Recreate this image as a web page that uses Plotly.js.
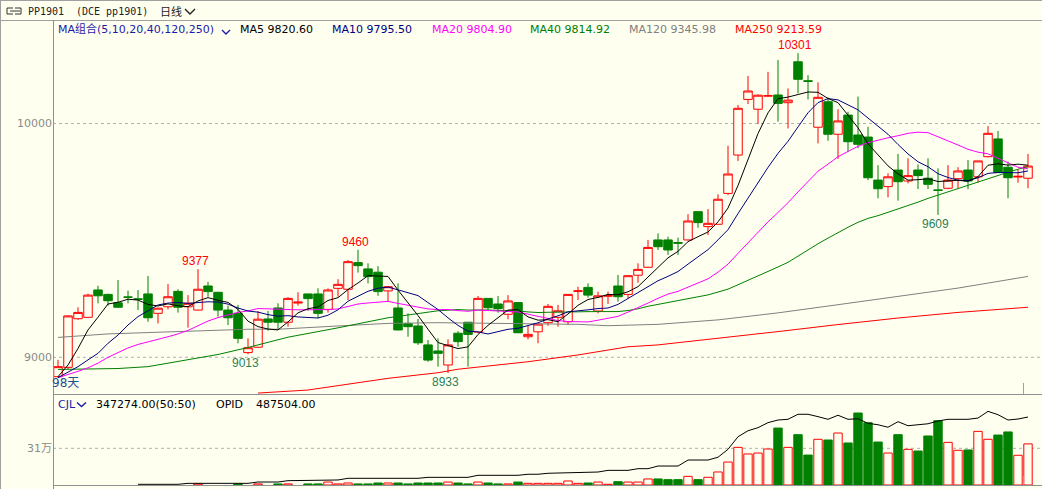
<!DOCTYPE html>
<html><head><meta charset="utf-8">
<script src="https://cdn.plot.ly/plotly-3.0.1.min.js"></script>
<style>html,body{margin:0;padding:0;background:#fffff0;overflow:hidden}</style>
</head><body><div id="chart" style="width:1042px;height:489px"></div>
<script>
// ---- data ----
const openP = [8917,8957,9165,9171,9288,9269,9233,9258,9250,9271,9188,9216,9282,9216,9202,9305,9278,9202,9188,9020,
  9043,9164,9211,9150,9232,9271,9271,9205,9295,9291,9405,9378,9364,9284,9211,9144,9134,9053,9027,8967,
  9103,9150,9108,9252,9228,9184,9234,9088,9109,9148,9171,9152,9282,9299,9198,9261,9305,9269,9351,9385,
  9502,9502,9491,9502,9623,9559,9569,9701,9865,10103,10061,10117,10122,10089,10264,10183,9984,10093,9954,10036,
  9951,9942,9758,9730,9801,9754,9801,9766,9716,9723,9764,9801,9772,9858,9934,9813,9771,9766];
const highP = [8989,9180,9214,9272,9306,9272,9331,9285,9288,9348,9212,9313,9291,9266,9377,9323,9280,9221,9224,9081,
  9198,9198,9231,9257,9278,9272,9295,9295,9334,9416,9460,9402,9390,9303,9316,9188,9164,9074,9081,9077,
  9112,9150,9262,9252,9262,9266,9236,9138,9145,9228,9224,9270,9302,9316,9281,9281,9352,9350,9402,9502,
  9530,9516,9512,9612,9623,9634,9697,9905,10079,10203,10125,10221,10272,10150,10301,10207,10176,10112,10061,10050,
  10115,9986,9822,9787,9870,9851,9825,9851,9808,9822,9813,9844,9840,9989,9968,9837,9804,9870];
const lowP = [8912,8950,9160,9170,9231,9221,9212,9231,9202,9152,9145,9205,9191,9127,9200,9259,9174,9138,9060,9013,
  9040,9114,9117,9131,9221,9199,9167,9191,9259,9245,9362,9316,9263,9238,9115,9088,9053,8981,8960,8933,
  9045,8960,9103,9202,9191,9163,9103,9077,9060,9135,9131,9138,9245,9255,9188,9228,9238,9252,9319,9383,
  9459,9438,9438,9500,9554,9523,9568,9694,9840,10083,9998,10115,10008,9979,10129,10103,9915,9926,9848,9879,
  9894,9758,9680,9684,9670,9744,9720,9720,9609,9719,9723,9719,9747,9855,9789,9680,9747,9723];
const closeP = [8960,9177,9192,9266,9263,9242,9214,9257,9248,9169,9210,9259,9214,9231,9291,9281,9202,9169,9081,9041,
  9163,9150,9150,9252,9236,9251,9188,9288,9312,9409,9392,9345,9281,9302,9117,9131,9062,8988,9017,9053,
  9067,9098,9252,9212,9208,9241,9105,9098,9142,9218,9199,9269,9284,9266,9263,9264,9259,9349,9376,9470,
  9473,9459,9488,9583,9576,9573,9676,9784,10065,10139,10121,10119,10086,10100,10189,10180,10112,9954,10011,9922,
  9911,9768,9721,9772,9751,9777,9777,9740,9714,9758,9797,9754,9840,9958,9790,9768,9774,9818];
// volumes too small to show in the picture are given as 0
const volume = [0,0,0,0,0,0,0,0,0,0,0,0,0,0,
  9000,0,0,0,9000,0,9000,0,9000,9000,0,9000,9000,25000,9000,17000,9000,9000,17000,17000,17000,9000,17000,17000,17000,25000,17000,9000,25000,17000,9000,9000,25000,
  14000,14000,14000,14000,34000,14000,17000,25000,6000,28000,25000,25000,51000,51000,45000,45000,73000,45000,65000,110000,194000,318000,262000,270000,
  304000,481000,318000,425000,253000,386000,380000,439000,355000,608000,526000,363000,270000,425000,301000,287000,414000,543000,360000,293000,
  296000,453000,386000,422000,448000,251000,347274];
const opidStart = 8;
const opid = [5000,5000,5000,5000,5000,12000,12000,12000,12000,12000,12000,12000,21500,21500,21500,31000,31000,31000,31000,36000,36000,
  48000,48000,48000,48000,48000,48000,48000,48000,55000,55000,55000,55000,55000,69500,69500,69500,69500,69500,77000,77000,84000,86000,86000,
  93000,93000,93000,105000,105000,105000,117000,117000,136000,136000,136000,179000,179000,179000,199000,256000,346000,389000,411000,447000,
  466000,471000,507000,507000,490000,471000,500000,471000,475000,442000,432000,414000,454000,425000,432000,439000,459000,471000,471000,471000,
  480000,528000,504000,466000,473000,487504];
// moving-average values before the full window
const ma5Head = [8917,8967,9038,9117];
const ma10Head = [8913,8938,8960,8989,9017,9060,9095,9138,9174];
const ma20Head = [8913,8925,8940,8955,8975,9000,9020,9040,9055,9065,9075,9088,9100,9115,9135,9155,9170,9182,9192];
const ma40HeadX = [0,6,9,13,16,19,23,28,33,38];
const ma40HeadY = [8948,8952,8960,8988,9012,9042,9086,9126,9169,9199];
const ma120X = [0,5,19,22,28,33,38,45,52,55,60,66,72,78,84,90,97];
const ma120Y = [9085,9100,9120,9120,9134,9145,9148,9145,9141,9135,9141,9160,9190,9225,9262,9296,9346];
const ma250X = [20,25,33,38,40,47,52,57,60,66,72,78,84,90,97];
const ma250Y = [8847,8860,8910,8934,8949,8981,9010,9045,9053,9080,9110,9140,9168,9192,9214];
const highLabels = [14,30,74];
const lowLabels = [19,39,88];
const maNames = ['MA5','MA10','MA20','MA40','MA120','MA250'];
const maValues = ['9820.60','9795.50','9804.90','9814.92','9345.98','9213.59'];

// ---- build ----
const BG = '#fffff0', RED = '#ff0000', GREEN = '#008000';
const idx = closeP.map((_, i) => i);
function sma(vals, n) {
  const xs = [], ys = [];
  for (let i = n - 1; i < vals.length; i++) {
    let s = 0; for (let k = i - n + 1; k <= i; k++) s += vals[k];
    xs.push(i); ys.push(s / n);
  }
  return {xs, ys};
}
const m5 = sma(closeP, 5), m10 = sma(closeP, 10), m20 = sma(closeP, 20), m40 = sma(closeP, 40);
function line(x, y, color, yaxis) {
  return {type: 'scatter', mode: 'lines', x, y, xaxis: 'x', yaxis: yaxis || 'y',
    line: {color, width: 1}, hoverinfo: 'skip'};
}
const up = idx.map(i => closeP[i] >= openP[i]);
const volIdx = idx.filter(i => volume[i] > 0);
const traces = [
  line(ma250X, ma250Y, RED),
  line(ma120X, ma120Y, '#808080'),
  line(ma40HeadX.concat(m40.xs), ma40HeadY.concat(m40.ys), GREEN),
  line(idx.slice(0, ma20Head.length).concat(m20.xs), ma20Head.concat(m20.ys), '#ff00ff'),
  line(idx.slice(0, ma10Head.length).concat(m10.xs), ma10Head.concat(m10.ys), '#000080'),
  line(idx.slice(0, ma5Head.length).concat(m5.xs), ma5Head.concat(m5.ys), '#000000'),
  {type: 'candlestick', x: idx, open: openP, high: highP, low: lowP, close: closeP,
   xaxis: 'x', yaxis: 'y', whiskerwidth: 0, hoverinfo: 'skip',
   increasing: {line: {color: RED, width: 1}, fillcolor: BG},
   decreasing: {line: {color: GREEN, width: 1}, fillcolor: GREEN}},
  {type: 'bar', x: volIdx, y: volIdx.map(i => volume[i]), xaxis: 'x', yaxis: 'y2', width: 0.84, hoverinfo: 'skip',
   marker: {color: volIdx.map(i => up[i] ? BG : GREEN), line: {color: volIdx.map(i => up[i] ? RED : GREEN), width: 1}}},
  line(opid.map((_, k) => k + opidStart), opid, '#000000', 'y3')
];

const L = 53, W = 989, H = 485;
const px = x => (x - L) / W, py = y => (H - y) / H;
const shapes = [];
function hline(y, x0, x1, color, dash) {
  shapes.push({type: 'line', xref: 'paper', yref: 'paper', x0: px(x0), x1: px(x1), y0: py(y), y1: py(y),
    line: {color, width: 1, dash: dash || 'solid'}, layer: 'above'});
}
function vline(x, y0, y1, color) {
  shapes.push({type: 'line', xref: 'paper', yref: 'paper', x0: px(x), x1: px(x), y0: py(y0), y1: py(y1),
    line: {color, width: 1}, layer: 'above'});
}
function chevron(x, y, w, h, color) {
  shapes.push({type: 'path', xref: 'paper', yref: 'paper', layer: 'above',
    path: `M${px(x)},${py(y)} L${px(x + w / 2)},${py(y + h)} L${px(x + w)},${py(y)}`,
    line: {color, width: 1.4}});
}
hline(0.5, 0, 1042, '#a0a0a0');
hline(20.5, 0, 1042, '#a0a0a0');
hline(394.5, 53, 1042, '#909090');
hline(485.5, 53, 1042, '#909090');
vline(53.5, 20, 489, '#909090');
vline(0.5, 0, 489, '#a0a0a0');
vline(1023.5, 383, 394, '#a0a0a0');
vline(1023.5, 476, 485, '#a0a0a0');
[9000, 10000].forEach(v => shapes.push({type: 'line', xref: 'paper', yref: 'y', x0: 0, x1: 1, y0: v, y1: v,
  line: {color: '#b0b0b0', width: 1, dash: 'dot'}, layer: 'below'}));
shapes.push({type: 'line', xref: 'paper', yref: 'y2', x0: 0, x1: 1, y0: 310000, y1: 310000,
  line: {color: '#b0b0b0', width: 1, dash: 'dot'}, layer: 'below'});
chevron(222, 30, 8, 4, '#1c1ca8');
chevron(185, 9, 10, 5, '#222222');
chevron(77, 402.5, 9, 4, '#1c1ca8');
// small link icon in the title bar
shapes.push({type: 'path', xref: 'paper', yref: 'paper', layer: 'above',
  path: `M${px(13)},${py(8)} L${px(7)},${py(8)} L${px(7)},${py(14)} L${px(13)},${py(14)} M${px(10)},${py(11)} L${px(20)},${py(11)} M${px(15)},${py(8)} L${px(21)},${py(8)} L${px(21)},${py(14)} L${px(15)},${py(14)}`,
  line: {color: '#333333', width: 1}});

const ann = [];
function txt(x, y, text, color, size, family, anchor) {
  ann.push({xref: 'paper', yref: 'paper', x: px(x), y: py(y), text, showarrow: false,
    xanchor: anchor || 'left', yanchor: 'middle', font: {color, size, family}});
}
const SANS = 'DejaVu Sans, Noto Sans CJK SC';
txt(26, 11, 'PP1901', '#222222', 10, 'DejaVu Sans Mono');
txt(74, 11, '(DCE pp1901)', '#222222', 10, 'DejaVu Sans Mono');
txt(158, 11, '日线', '#222222', 11, 'Noto Sans CJK SC');
txt(56, 29, 'MA组合(5,10,20,40,120,250)', '#1c1ca8', 11, SANS);
const maColors = ['#000000', '#000080', '#ff00ff', '#008000', '#808080', '#ff0000'];
const maX = [238, 330, 430, 528, 627, 733];
maNames.forEach((n, k) => txt(maX[k], 29, n + ' ' + maValues[k], maColors[k], 11, SANS));
txt(50, 383, '98天', '#23508c', 12, SANS);
txt(56, 404, 'CJL', '#1c1ca8', 11, SANS);
txt(94, 404, volume[volume.length - 1].toFixed(2) + '(50:50)', '#000000', 11, SANS);
txt(214, 404, 'OPID', '#000000', 11, SANS);
txt(254, 404, opid[opid.length - 1].toFixed(2), '#000000', 11, SANS);
highLabels.forEach(i => ann.push({xref: 'x', yref: 'y', x: i, y: highP[i], text: String(highP[i]), showarrow: false,
  xanchor: 'center', yanchor: 'bottom', xshift: -3, yshift: -1, font: {color: '#ff0000', size: 12, family: 'Liberation Sans'}}));
lowLabels.forEach(i => ann.push({xref: 'x', yref: 'y', x: i, y: lowP[i], text: String(lowP[i]), showarrow: false,
  xanchor: 'center', yanchor: 'top', xshift: -3, yshift: 0, font: {color: '#2a7f5a', size: 12, family: 'Liberation Sans'}}));

const axisFont = {family: 'DejaVu Sans, Noto Sans CJK SC', size: 11, color: '#8a8a8a'};
const layout = {
  width: 1042, height: 489, margin: {l: 53, r: 0, t: 0, b: 4, pad: 0},
  paper_bgcolor: BG, plot_bgcolor: BG, showlegend: false, hovermode: false,
  boxgap: 0.15, boxgroupgap: 0, bargap: 0.2,
  xaxis: {range: [-0.5, 98.4], visible: false, rangeslider: {visible: false}, fixedrange: true},
  yaxis: {domain: [(H - 394) / H, (H - 20) / H], range: [8843, 10442.7], showgrid: false, zeroline: false,
    tickmode: 'array', tickvals: [9000, 10000], ticktext: ['9000', '10000'], ticks: '', showline: false,
    tickfont: axisFont, fixedrange: true},
  yaxis2: {domain: [0, (H - 394) / H], range: [0, 768665], showgrid: false, zeroline: false,
    tickmode: 'array', tickvals: [310000], ticktext: ['31万'], ticks: '', showline: false,
    tickfont: axisFont, fixedrange: true},
  yaxis3: {overlaying: 'y2', range: [0, 652410], visible: false, fixedrange: true},
  shapes, annotations: ann
};
Plotly.newPlot('chart', traces, layout, {staticPlot: true, displayModeBar: false});
</script>
</body></html>
